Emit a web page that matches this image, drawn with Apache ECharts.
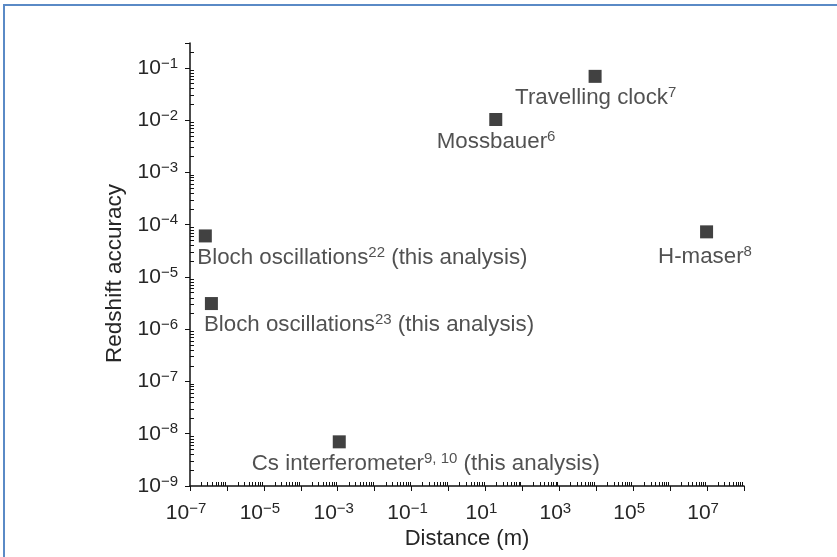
<!DOCTYPE html>
<html>
<head>
<meta charset="utf-8">
<script src="https://cdn.jsdelivr.net/npm/echarts@6/dist/echarts.min.js"></script>
<style>
body{margin:0;background:#fff}
#main{width:837px;height:557px}
</style>
</head>
<body>
<div id="main"></div>
<script>
var names = ['Bloch oscillations', 'Bloch oscillations', 'Cs interferometer', 'Mossbauer', 'Travelling clock', 'H-maser'];
var refs = ['22', '23', '9, 10', '6', '7', '8'];
var notes = [' (this analysis)', ' (this analysis)', ' (this analysis)', '', '', ''];
var distance = [2.6e-7, 3.8e-7, 1.1e-3, 19, 9.3e3, 9.7e6];
var accuracy = [6.1e-5, 3.1e-6, 7.0e-9, 1.03e-2, 6.9e-2, 7.3e-5];

// axes
var xExpTicks = [-7, -6, -5, -4, -3, -2, -1, 0, 1, 2, 3, 4, 5, 6, 7, 8];
var xExpLabels = [-7, -5, -3, -1, 1, 3, 5, 7];
var yExpTicks = [-9, -8, -7, -6, -5, -4, -3, -2, -1];
var yExpLabels = [-9, -8, -7, -6, -5, -4, -3, -2, -1];
var xMin = 1e-7, xMax = 1e8;
var yMin = 1e-9, yMax = 0.3;

// label offsets from the square's corner
var labelPos = [[-1.5, 28], [-1, 27.5], [-81, 29], [-52.5, 28.5], [-73.5, 28], [-42, 32]];

var font = 'Liberation Sans, Arial, Helvetica, sans-serif';
var ink = '#262626';

function pow10(list){
	var out = [];
	for(var i = 0; i < list.length; i++){
		out.push(Math.pow(10, list[i]));
	}
	return out;
}
function minors(lo, hi, max){
	var out = [];
	for(var n = lo; n <= hi; n++){
		for(var k = 2; k <= 9; k++){
			var v = k * Math.pow(10, n);
			if(v <= max) out.push(v);
		}
	}
	return out;
}
function powLabel(value){
	var e = Math.round(Math.log(value) / Math.LN10);
	return '{b|10}{s|' + (e < 0 ? '\u2212' : '') + Math.abs(e) + '}';
}

var tickRich = {
	b: {fontSize: 21, fontFamily: font, color: ink, lineHeight: 24},
	s: {fontSize: 15, fontFamily: font, color: ink, verticalAlign: 'top', lineHeight: 15}
};

var points = [];
for(var i = 0; i < names.length; i++){
	points.push({
		value: [distance[i], accuracy[i]],
		label: {position: labelPos[i]}
	});
}

var myChart = echarts.init(document.getElementById('main'));
var lineStyle = {color: '#111', width: 1};
var option = {
	animation: false,
	backgroundColor: '#fff',
	grid: {left: 190, right: 93, top: 43, bottom: 71},
	graphic: [{
		type: 'rect',
		shape: {x: 4, y: 5, width: 1000, height: 1000},
		style: {fill: 'none', stroke: '#5a8ac6', lineWidth: 2}
	}],
	xAxis: [
		{
			type: 'log', min: xMin, max: xMax,
			position: 'bottom',
			name: 'Distance (m)', nameLocation: 'middle', nameGap: 42,
			nameTextStyle: {fontSize: 22, fontFamily: font, color: ink},
			axisLine: {lineStyle: {color: '#111', width: 1.5}},
			axisTick: {inside: false, length: 5, lineStyle: lineStyle, customValues: pow10(xExpTicks)},
			axisLabel: {margin: 15, padding: [0, 8, 0, 0], customValues: pow10(xExpLabels), formatter: powLabel, rich: tickRich},
			splitLine: {show: false}
		},
		{
			type: 'log', min: xMin, max: xMax,
			position: 'bottom',
			axisLine: {show: false},
			axisTick: {inside: true, length: 4, lineStyle: lineStyle, customValues: minors(-7, 7, xMax)},
			axisLabel: {show: false},
			splitLine: {show: false}
		}
	],
	yAxis: [
		{
			type: 'log', min: yMin, max: yMax,
			position: 'left',
			name: 'Redshift accuracy', nameLocation: 'middle', nameGap: 62,
			nameTextStyle: {fontSize: 22.5, fontFamily: font, color: ink, padding: [0, 18, 0, 0]},
			axisLine: {lineStyle: {color: '#111', width: 1.5}},
			axisTick: {inside: false, length: 5, lineStyle: lineStyle, customValues: pow10(yExpTicks).concat([yMax])},
			axisLabel: {margin: 12, customValues: pow10(yExpLabels), formatter: powLabel, rich: tickRich},
			splitLine: {show: false}
		},
		{
			type: 'log', min: yMin, max: yMax,
			position: 'left',
			axisLine: {show: false},
			axisTick: {inside: true, length: 4, lineStyle: lineStyle, customValues: minors(-9, -1, yMax)},
			axisLabel: {show: false},
			splitLine: {show: false}
		}
	],
	series: [{
		type: 'scatter',
		xAxisIndex: 0,
		yAxisIndex: 0,
		symbol: 'rect',
		symbolSize: 13,
		itemStyle: {color: '#111'},
		label: {
			show: true,
			align: 'left',
			verticalAlign: 'middle',
			formatter: function(p){
				return '{t|' + names[p.dataIndex] + '}{s|' + refs[p.dataIndex] + '}{t|' + notes[p.dataIndex] + '}';
			},
			rich: {
				t: {fontSize: 22.3, fontFamily: font, color: ink, lineHeight: 25},
				s: {fontSize: 15, fontFamily: font, color: ink, verticalAlign: 'top', lineHeight: 15}
			}
		},
		emphasis: {disabled: true},
		data: points
	}]
};
myChart.setOption(option);
</script>
</body>
</html>
